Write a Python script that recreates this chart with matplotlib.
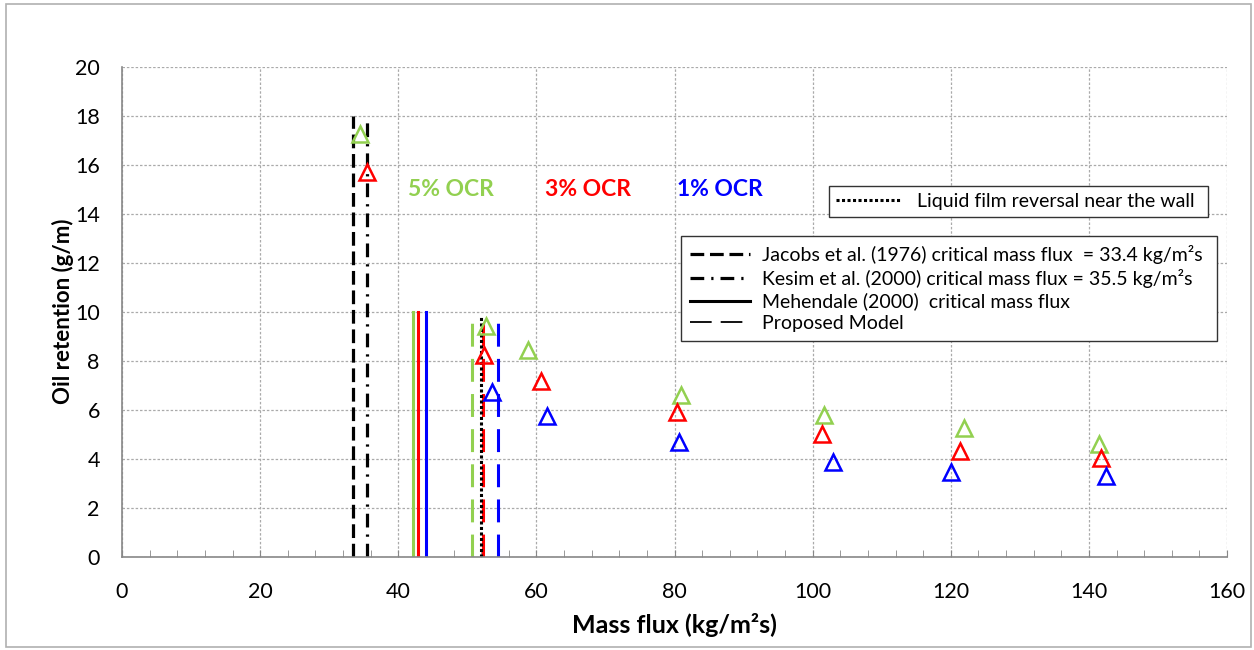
import matplotlib.pyplot as plt
from matplotlib.lines import Line2D
from matplotlib.patches import Rectangle

plt.rcParams['font.family'] = ['Lato', 'DejaVu Sans']

# measured points (mass flux, oil retention)
g5_x = [34.4, 52.7, 58.8, 81.0, 101.7, 121.9, 141.4]
g5_y = [17.25, 9.43, 8.45, 6.61, 5.77, 5.25, 4.6]
g3_x = [35.4, 52.4, 60.6, 80.4, 101.3, 121.4, 141.8]
g3_y = [15.7, 8.22, 7.18, 5.92, 5.02, 4.31, 4.03]
g1_x = [53.5, 61.6, 80.6, 103.0, 120.0, 142.5]
g1_y = [6.72, 5.76, 4.67, 3.88, 3.44, 3.28]

# critical mass flux lines
jacobs_x, jacobs_top = 33.4, 18
kesim_x, kesim_top = 35.5, 18
mehendale_x = [42.1, 42.9, 44.0]
mehendale_top = 10
proposed_x = [50.7, 52.3, 54.5]
proposed_top = [9.7, 9.7, 9.7]
reversal_x, reversal_top = 52.0, 9.8

colors = ['#92D050', '#FF0000', '#0000FF']
ocr_labels = ['5% OCR', '3% OCR', '1% OCR']
ocr_label_x = [47.6, 67.5, 86.6]

fig = plt.figure(figsize=(12.54, 6.5), dpi=100)
ax = fig.add_axes([0.0973, 0.1435, 0.8812, 0.7539])
fig.patches.append(Rectangle((0.005, 0.005), 0.993, 0.989, transform=fig.transFigure,
                             fill=False, ec='#b0b0b0', lw=1.2))

ax.plot([jacobs_x, jacobs_x], [0, jacobs_top], color='k', lw=2.3, dashes=(4.3, 1.8))
ax.plot([kesim_x, kesim_x], [0, kesim_top], color='k', lw=2.3, dashes=(4.3, 2.2, 0.7, 2.2))
for x, c in zip(mehendale_x, colors):
    ax.plot([x, x], [0, mehendale_top], color=c, lw=2.2)
for x, t, c in zip(proposed_x, proposed_top, colors):
    ax.plot([x, x], [0, t], color=c, lw=2.2, dashes=(7.5, 4))
ax.plot([reversal_x, reversal_x], [0, reversal_top], color='k', lw=2.2, dashes=(1, 0.8))

for xs, ys, c in [(g5_x, g5_y, colors[0]), (g3_x, g3_y, colors[1]), (g1_x, g1_y, colors[2])]:
    ax.plot(xs, ys, ls='none', marker='^', ms=12, mfc='none', mec=c, mew=1.8)

for x, t, c in zip(ocr_label_x, ocr_labels, colors):
    ax.text(x, 15.0, t, color=c, fontsize=16.5, fontweight='bold', ha='center', va='center')

ax.set_xlim(0, 160)
ax.set_ylim(0, 20)
ax.set_xticks(range(0, 161, 20))
ax.set_xticks(range(0, 161, 4), minor=True)
ax.set_yticks(range(0, 21, 2))
ax.tick_params(axis='x', which='both', direction='in', length=5, color='#888888',
               labelsize=15.5, pad=18)
ax.tick_params(axis='y', length=0, labelsize=15.5, pad=16)
ax.grid(True, color='#aaaaaa', ls=(0, (2, 1.5)), lw=0.9)
ax.set_axisbelow(True)
for s in ['top', 'right']:
    ax.spines[s].set_visible(False)
for s in ['left', 'bottom']:
    ax.spines[s].set_color('#888888')
    ax.spines[s].set_linewidth(1.2)

ax.set_xlabel('Mass flux (kg/m²s)', fontsize=18, fontweight='bold', labelpad=8)
ax.set_ylabel('Oil retention (g/m)', fontsize=16, fontweight='bold', labelpad=1)

leg1 = ax.legend([Line2D([], [], color='k', lw=2.2, dashes=(1, 0.8))],
                 ['Liquid film reversal near the wall'],
                 loc='upper left', bbox_to_anchor=(0.6611, 0.6638, 0.3022, 0.05),
                 bbox_transform=fig.transFigure, mode='expand',
                 fancybox=False, edgecolor='#333333', framealpha=1, fontsize=14,
                 handlelength=3.3, handletextpad=0.9, borderpad=0.35, borderaxespad=0)
ax.add_artist(leg1)

handles = [
    Line2D([], [], color='k', lw=2.3, dashes=(4.3, 1.8)),
    Line2D([], [], color='k', lw=2.3, dashes=(4.3, 2.2, 0.7, 2.2)),
    Line2D([], [], color='k', lw=2.2),
    Line2D([], [], color='k', lw=1.3, dashes=(12, 5)),
]
labels = [
    'Jacobs et al. (1976) critical mass flux  = 33.4 kg/m²s',
    'Kesim et al. (2000) critical mass flux = 35.5 kg/m²s',
    'Mehendale (2000)  critical mass flux',
    'Proposed Model',
]
ax.legend(handles, labels, loc='upper left', bbox_to_anchor=(0.5431, 0.5369, 0.4274, 0.1),
          bbox_transform=fig.transFigure, mode='expand', fancybox=False, edgecolor='#333333',
          framealpha=1, fontsize=14, handlelength=3.1, handletextpad=0.6, borderpad=0.45,
          labelspacing=0.25, borderaxespad=0)

fig.savefig('out.png', dpi=100)
